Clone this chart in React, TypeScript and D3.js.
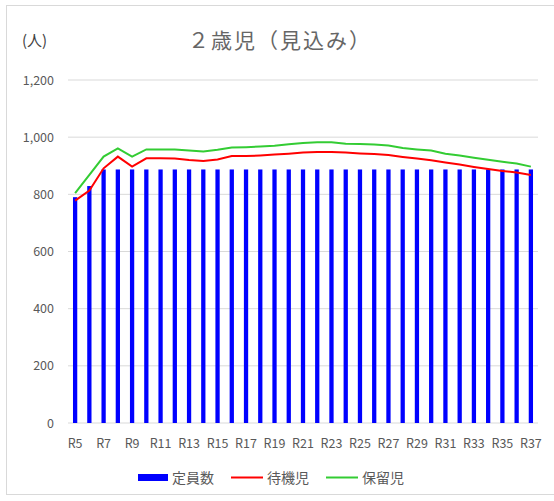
import React from "react";
import * as d3 from "d3";

const categories = ["R5","R6","R7","R8","R9","R10","R11","R12","R13","R14","R15","R16","R17","R18","R19","R20","R21","R22","R23","R24","R25","R26","R27","R28","R29","R30","R31","R32","R33","R34","R35","R36","R37"];
const capacity = [790, 829, 887, 887, 887, 887, 887, 887, 887, 887, 887, 887, 887, 887, 887, 887, 887, 887, 887, 887, 887, 887, 887, 887, 887, 887, 887, 887, 887, 887, 887, 887, 887];
const waiting = [778, 813, 891, 932, 897, 926, 926, 925, 920, 917, 922, 934, 934, 936, 939, 942, 946, 948, 948, 946, 943, 941, 938, 931, 925, 919, 911, 904, 896, 889, 882, 876, 868];
const reserved = [804, 868, 932, 961, 932, 957, 957, 957, 953, 950, 956, 964, 965, 967, 970, 975, 980, 982, 982, 977, 976, 974, 971, 962, 957, 953, 942, 936, 928, 921, 914, 908, 897];
const yTicks = [0, 200, 400, 600, 800, 1000, 1200];
const legendLabels = ["定員数", "待機児", "保留児"];

const W = 554, H = 501;
const left = 68, right = 538, top = 80, bottom = 423;
const font = "'Noto Sans CJK JP', 'Noto Sans', sans-serif";
const gray = "#595959";

export default function App() {
  const x = d3.scaleBand<string>().domain(categories).range([left, right]).paddingInner(0.7).paddingOuter(0.35);
  const y = d3.scaleLinear().domain([0, 1200]).range([bottom, top]);
  const cx = (c: string) => (x(c) as number) + x.bandwidth() / 2;
  const line = d3.line<number>().x((_, i) => cx(categories[i])).y((d) => y(d));

  return (
    <svg width={W} height={H} style={{ position: "absolute", left: 0, top: 0, background: "#fff" }} fontFamily={font}>
      <rect x={6.5} y={5.5} width={W} height={489} fill="#fff" stroke="#d9d9d9" strokeWidth={1} />
      <text x={22} y={46} fontSize={15} fill="#404040">(人)</text>
      <text x={280} y={48} fontSize={21} fill="#666" textAnchor="middle" letterSpacing={2}>２歳児（見込み）</text>
      {yTicks.map((t) => (
        <g key={t}>
          <line x1={left} x2={right} y1={y(t)} y2={y(t)} stroke="#d9d9d9" strokeWidth={1} />
          <text x={54} y={y(t) + 4.5} fontSize={12.5} fill={gray} textAnchor="end">{d3.format(",")(t)}</text>
        </g>
      ))}
      {categories.map((c, i) => (
        <rect key={c} x={x(c)} y={y(capacity[i])} width={x.bandwidth()} height={bottom - y(capacity[i])} fill="#0000ff" />
      ))}
      <path d={line(waiting) as string} fill="none" stroke="#ff0000" strokeWidth={2} />
      <path d={line(reserved) as string} fill="none" stroke="#33cc33" strokeWidth={2} />
      {categories.map((c, i) => i % 2 === 0 ? (
        <text key={c} x={cx(c)} y={448} fontSize={12.5} fill={gray} textAnchor="middle">{c}</text>
      ) : null)}
      <g fontSize={14} fill={gray}>
        <rect x={138} y={474} width={30} height={7} fill="#0000ff" />
        <text x={172} y={483}>{legendLabels[0]}</text>
        <line x1={231} x2={263} y1={477.5} y2={477.5} stroke="#ff0000" strokeWidth={2} />
        <text x={267} y={483}>{legendLabels[1]}</text>
        <line x1={326} x2={358} y1={477.5} y2={477.5} stroke="#33cc33" strokeWidth={2} />
        <text x={362} y={483}>{legendLabels[2]}</text>
      </g>
    </svg>
  );
}
